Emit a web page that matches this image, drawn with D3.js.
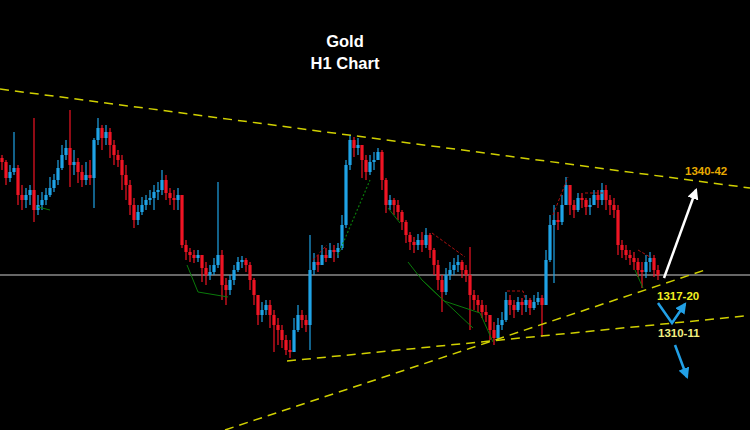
<!DOCTYPE html>
<html>
<head>
<meta charset="utf-8">
<script src="https://cdn.jsdelivr.net/npm/d3@7"></script>
<style>
  html, body { margin: 0; padding: 0; background: #000; }
  svg { display: block; }
</style>
</head>
<body>
<svg id="chart" width="750" height="430"></svg>
<script>
// ---------------- data (Gold, H1 candles) ----------------
const firstOpen = 1350.5;
const closes = [
1349.5,1345.5,1347,1348,1341.25,1340,1341.25,1342.5,1337.5,1338.75,
1340,1341.25,1343,1345,1348,1351.25,1353,1348.75,1349.5,1347,
1345,1346.25,1345.5,1355,1358,1355.5,1357,1353.75,1351.25,1350,
1346.25,1343.75,1338.75,1335,1337,1338.75,1340,1340.5,1342,1342.5,
1345,1341.75,1340.5,1340,1341.25,1328.75,1327,1326.25,1325.5,1326.25,
1323,1321.25,1322,1323.75,1326.25,1318.75,1317.5,1320,1322.5,1324.5,
1325,1323.75,1320,1316.25,1311.25,1312.5,1313.75,1311.25,1308.75,1307.5,
1305,1302.5,1302,1307.5,1311.25,1310,1308.75,1322.5,1324.5,1323.75,
1326.25,1325.5,1327.5,1327,1328,1333.75,1348.75,1355,1353,1353.75,
1350,1347,1349.5,1350,1352,1345,1338.75,1340,1338.75,1337,
1334.5,1331.25,1329.5,1328.75,1330,1328.75,1331.25,1327.5,1323.75,1320,
1317,1321.25,1322.5,1323.75,1324.5,1322.5,1321.25,1316.25,1315,1313.75,
1312,1311.25,1307.5,1305.5,1308.75,1310,1315,1313.75,1312.5,1314.5,
1313.75,1315,1313,1314.5,1315.5,1313.75,1325,1333.75,1335,1334.5,
1338.75,1343.75,1338.75,1337.5,1340.5,1340,1338.25,1338.75,1341.25,1340,
1342.5,1340,1338.75,1337.5,1328.75,1327.5,1326.25,1325.5,1324.5,1322.5,
1322,1324.5,1325.5,1322.5,1321.25
];
const highs = [
1351.25,1350,1348.75,1357,1348.75,1343.75,1343,1343.75,1360.5,1341.25,
1342,1343,1345.75,1346.5,1350,1353.75,1355,1362.5,1352.5,1350.5,
1348.75,1349.5,1350,1355.5,1360.5,1358.75,1358.75,1358,1355,1352.5,
1351.25,1348.75,1345,1340.5,1338.75,1340.75,1341.25,1342.5,1343.75,1344.5,
1347.5,1346.25,1343,1342.5,1343,1341.25,1330,1328,1327.5,1327.5,
1326.25,1324.5,1323.75,1325.5,1344.5,1327.5,1320.5,1321.25,1323.75,1325.75,
1326,1325.5,1324.5,1320.5,1316.25,1314.5,1315,1315,1312.5,1310.5,
1308.75,1306.25,1305,1310.5,1313.75,1312.5,1311.25,1331.25,1326.75,1326.25,
1328.75,1328,1329.25,1328.75,1329.25,1336.25,1350,1356.25,1355.75,1355.5,
1353.75,1351.25,1351.25,1352,1353,1352.5,1345.5,1341.25,1340.5,1340,
1337.5,1335,1332,1330.75,1331.5,1332,1333,1331.75,1328,1325,
1321.25,1323,1324.5,1325.5,1326.25,1325,1323.75,1328.25,1317.5,1316.25,
1315,1313.75,1311.25,1309.5,1310.5,1312,1317,1316.25,1315,1315.75,
1315.5,1316.25,1315.5,1316.25,1317,1316.25,1327.5,1336.25,1338.75,1337,
1341.25,1345.75,1343.75,1340,1341.75,1341.75,1340.5,1340.5,1342.5,1342.5,
1344.25,1343.75,1341.25,1340.5,1338.75,1330,1328.75,1327.5,1327,1325.5,
1324.5,1326.25,1327,1326.25,1323.75
];
const lows = [
1347.5,1343.75,1344.5,1346.25,1338.75,1337.5,1338,1338.75,1334.5,1336.25,
1337.5,1338.75,1340.75,1342,1343.75,1347.5,1350,1343.25,1346.25,1344.25,
1343.25,1343.75,1343.75,1338,1353.75,1352.5,1353.75,1350.5,1348.75,1348.25,
1342.5,1340,1336.25,1333,1333.75,1336.25,1337.5,1338.75,1337.5,1340,
1341.25,1340,1338.75,1337.5,1337.5,1328,1325,1324.5,1324.25,1324.5,
1319.5,1318.75,1320,1321.25,1323,1315,1313.75,1316.25,1318.75,1322,
1323,1322,1317.5,1313.75,1308.75,1309.5,1311.25,1308,1302,1303.75,
1303,1301.25,1300.5,1302,1307,1308,1307,1302.5,1321.25,1322,
1323.75,1324.5,1325.5,1324.5,1325.5,1327.5,1333,1347.5,1350.75,1351.25,
1345.5,1345,1346.25,1347.5,1350,1342.5,1336.75,1337.5,1336.25,1335,
1332.5,1329.25,1327.5,1326.75,1327.5,1327,1328,1325.5,1321.25,1317.5,
1312,1316.25,1320,1321.25,1322,1320.5,1319.5,1307.5,1312.5,1312,
1310.5,1309.5,1305,1303.75,1305,1307.5,1309.5,1311.25,1310.5,1312,
1311.25,1312,1311.25,1312.5,1313.75,1305.75,1313.75,1324.5,1319.25,1332.5,
1333.75,1338.75,1336.25,1335.5,1337,1338,1336.25,1336.25,1338.75,1338,
1338.75,1337.5,1336.25,1335.5,1326.25,1325.5,1325,1323.75,1322.5,1320.75,
1318,1320.5,1322,1320.75,1320
];

// Trend lines and annotations (bar index, price)
const upperTrend  = [[-0.5, 1367.75], [187, 1343]];
const risingTrend = [[55.75, 1282.5], [175.75, 1322.5]];
const bottomTrend = [[71.25, 1299.75], [185.75, 1311]];
const pivotLevel  = 1321.25;
const greenLines = [
  [[9, 1338.25], [12, 1337.5]],
  [[46.25, 1323.75], [49, 1317], [56.5, 1315.75]],
  [[96.5, 1338], [99.5, 1334.25]],
  [[101.5, 1324.5], [105, 1320], [117.75, 1308]],
  [[105, 1320], [110.5, 1314.75], [119.5, 1311.75], [122.75, 1304.5]],
  [[158.25, 1322.5], [160.25, 1318]]
];
const greenDotted = [[84, 1326.25], [92, 1345]];
const redLines = [
  [[77.75, 1325], [81.25, 1328.75]],
  [[107.5, 1331.75], [115.75, 1325.75]],
  [[126.25, 1317.25], [130.25, 1317.25], [130.75, 1315.5]],
  [[137.75, 1336.25], [141.5, 1345.75]],
  [[145.75, 1341.75], [150.25, 1341.75]],
  [[159, 1327.5], [162, 1325.75]]
];
const whiteArrow  = [[165.5, 1320.5], [173.5, 1342.5]];
const blueArrowV  = [[164, 1314.25], [167.5, 1309.25], [170.75, 1314]];
const blueArrowDn = [[168.25, 1303.75], [171.25, 1295.75]];
const levelLabels = [
  {text: "1340-42", i: 170.75, p: 1346.25, color: "#e8aa00"},
  {text: "1317-20", i: 163.75, p: 1315,    color: "#f2f020"},
  {text: "1310-11", i: 164,    p: 1305.75, color: "#f0f080"}
];
const titleLines = ["Gold", "H1 Chart"];

// ---------------- drawing ----------------
const W = 750, H = 430;
const svg = d3.select("#chart");
svg.append("rect").attr("width", W).attr("height", H).attr("fill", "#000");

const n = closes.length;
const x = d3.scaleLinear().domain([0, n - 1]).range([2, 658]);
const y = d3.scaleLinear().domain([1300, 1390]).range([360, 0]);

const candles = closes.map((c, i) => {
  const o = i === 0 ? firstOpen : closes[i - 1];
  return {i, o, c, h: Math.max(highs[i], o, c), l: Math.min(lows[i], o, c)};
});

const defs = svg.append("defs");
function marker(id, color) {
  defs.append("marker").attr("id", id)
    .attr("viewBox", "0 0 10 10").attr("refX", 8).attr("refY", 5)
    .attr("markerWidth", 4.5).attr("markerHeight", 4.5)
    .attr("orient", "auto-start-reverse")
    .append("path").attr("d", "M0,0 L10,5 L0,10 Z").attr("fill", color);
}
marker("arrW", "#ffffff");
marker("arrB", "#22a0e6");

const line = d3.line().x(d => x(d[0])).y(d => y(d[1]));

// pivot horizontal line
svg.append("line")
  .attr("x1", 0).attr("x2", W)
  .attr("y1", y(pivotLevel)).attr("y2", y(pivotLevel))
  .attr("stroke", "#8a8a8a").attr("stroke-width", 1.3);

// candles
const UP = "#1fa3e6", DN = "#f01424";
const g = svg.append("g");
const cg = g.selectAll("g.c").data(candles).join("g");
cg.append("line")
  .attr("x1", d => x(d.i)).attr("x2", d => x(d.i))
  .attr("y1", d => y(d.h)).attr("y2", d => y(d.l))
  .attr("stroke", d => d.c >= d.o ? UP : DN).attr("stroke-width", 1.2);
cg.append("rect")
  .attr("x", d => x(d.i) - 1.6).attr("width", 3.2)
  .attr("y", d => y(Math.max(d.o, d.c)))
  .attr("height", d => Math.max(1, Math.abs(y(d.o) - y(d.c))))
  .attr("fill", d => d.c >= d.o ? UP : DN);

// small pattern lines
greenLines.forEach(pts => svg.append("path").attr("d", line(pts))
  .attr("fill", "none").attr("stroke", "#0a7a0a").attr("stroke-width", 1));
svg.append("path").attr("d", line(greenDotted))
  .attr("fill", "none").attr("stroke", "#0a7a0a").attr("stroke-width", 1.2)
  .attr("stroke-dasharray", "2,2");
redLines.forEach(pts => svg.append("path").attr("d", line(pts))
  .attr("fill", "none").attr("stroke", "#b01010").attr("stroke-width", 1)
  .attr("stroke-dasharray", "3,2"));

// trend lines
[upperTrend, risingTrend, bottomTrend].forEach(pts => svg.append("path")
  .attr("d", line(pts)).attr("fill", "none")
  .attr("stroke", "#d0d000").attr("stroke-width", 1.5)
  .attr("stroke-dasharray", "9,6"));

// arrows
svg.append("path").attr("d", line(whiteArrow)).attr("fill", "none")
  .attr("stroke", "#ffffff").attr("stroke-width", 2.5).attr("marker-end", "url(#arrW)");
svg.append("path").attr("d", line(blueArrowV)).attr("fill", "none")
  .attr("stroke", "#22a0e6").attr("stroke-width", 2.5).attr("marker-end", "url(#arrB)");
svg.append("path").attr("d", line(blueArrowDn)).attr("fill", "none")
  .attr("stroke", "#22a0e6").attr("stroke-width", 2.5).attr("marker-end", "url(#arrB)");

// level labels
svg.selectAll("text.lvl").data(levelLabels).join("text")
  .attr("class", "lvl")
  .attr("x", d => x(d.i)).attr("y", d => y(d.p))
  .attr("fill", d => d.color)
  .attr("font-family", "Liberation Sans, Arial, sans-serif")
  .attr("font-weight", "bold").attr("font-size", 11.5)
  .text(d => d.text);

// title
svg.selectAll("text.title").data(titleLines).join("text")
  .attr("class", "title")
  .attr("x", 345).attr("y", (d, i) => 47 + i * 22)
  .attr("text-anchor", "middle")
  .attr("fill", "#ffffff")
  .attr("font-family", "Liberation Sans, Arial, sans-serif")
  .attr("font-weight", "bold").attr("font-size", 16.5)
  .text(d => d);
</script>
</body>
</html>
